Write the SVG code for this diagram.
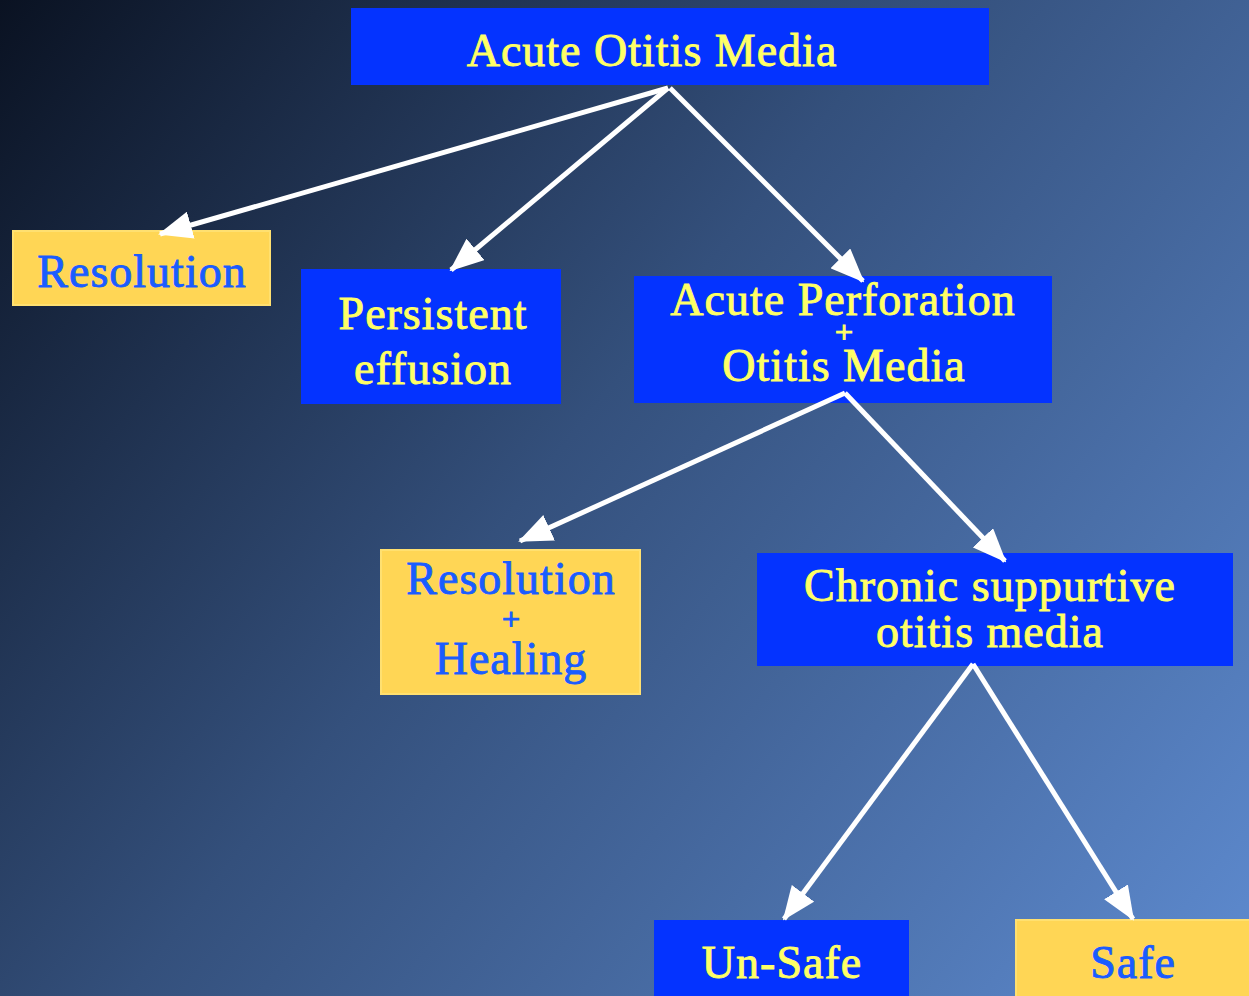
<svg xmlns="http://www.w3.org/2000/svg" width="1249" height="996" viewBox="0 0 1249 996">
<defs>
<linearGradient id="bg" x1="0" y1="0" x2="1249" y2="996" gradientUnits="userSpaceOnUse">
<stop offset="0" stop-color="#0a1222"/>
<stop offset="0.45" stop-color="#34507c"/>
<stop offset="1" stop-color="#5e8bd0"/>
</linearGradient>
<marker id="ah" viewBox="0 0 34 28" refX="32" refY="14" markerWidth="34" markerHeight="28" markerUnits="userSpaceOnUse" orient="auto">
<path d="M0,0 L34,14 L0,28 Z" fill="#ffffff"/>
</marker>
<style>
.blue{fill:#0433ff}
.gold{fill:#ffd655;stroke:#ffe070;stroke-width:2}
.yt,.bt{font-family:"Liberation Serif",serif;font-size:46px;letter-spacing:1px;text-anchor:middle;stroke-width:0.9px}
.yt{fill:#ffff66;stroke:#ffff66}
.bt{fill:#1a5cff;stroke:#1a5cff}
.plus{font-size:32px;letter-spacing:0;stroke-width:1.2px}
.conn line{stroke:#ffffff;stroke-width:5;marker-end:url(#ah)}
</style>
</defs>
<rect width="1249" height="996" fill="url(#bg)"/>
<g id="aom">
<rect class="blue" x="351" y="8" width="638" height="77"/>
<text class="yt" x="652" y="66">Acute Otitis Media</text>
</g>
<g id="resolution">
<rect class="gold" x="13" y="231" width="257" height="74"/>
<text class="bt" x="142" y="287">Resolution</text>
</g>
<g id="persistent">
<rect class="blue" x="301" y="269" width="260" height="135"/>
<text class="yt" x="433" y="329">Persistent</text>
<text class="yt" x="433" y="384">effusion</text>
</g>
<g id="perforation">
<rect class="blue" x="634" y="276" width="418" height="127"/>
<text class="yt" x="843" y="315">Acute Perforation</text>
<text class="yt plus" x="844" y="343">+</text>
<text class="yt" x="844" y="381">Otitis Media</text>
</g>
<g id="healing">
<rect class="gold" x="381" y="550" width="259" height="144"/>
<text class="bt" x="511" y="594">Resolution</text>
<text class="bt plus" x="511" y="630">+</text>
<text class="bt" x="511" y="674">Healing</text>
</g>
<g id="csom">
<rect class="blue" x="757" y="553" width="476" height="113"/>
<text class="yt" x="990" y="601">Chronic suppurtive</text>
<text class="yt" x="990" y="647">otitis media</text>
</g>
<g id="unsafe">
<rect class="blue" x="654" y="920" width="255" height="80"/>
<text class="yt" x="782" y="978">Un-Safe</text>
</g>
<g id="safe">
<rect class="gold" x="1016" y="920" width="240" height="80"/>
<text class="bt" x="1133" y="978">Safe</text>
</g>
<g class="conn">
<line x1="668" y1="88" x2="160" y2="234"/>
<line x1="668" y1="88" x2="451" y2="270"/>
<line x1="670" y1="88" x2="863" y2="281"/>
<line x1="845" y1="393" x2="520" y2="541"/>
<line x1="845" y1="393" x2="1005" y2="561"/>
<line x1="973" y1="664" x2="784" y2="919"/>
<line x1="973" y1="664" x2="1133" y2="919"/>
</g>
</svg>
